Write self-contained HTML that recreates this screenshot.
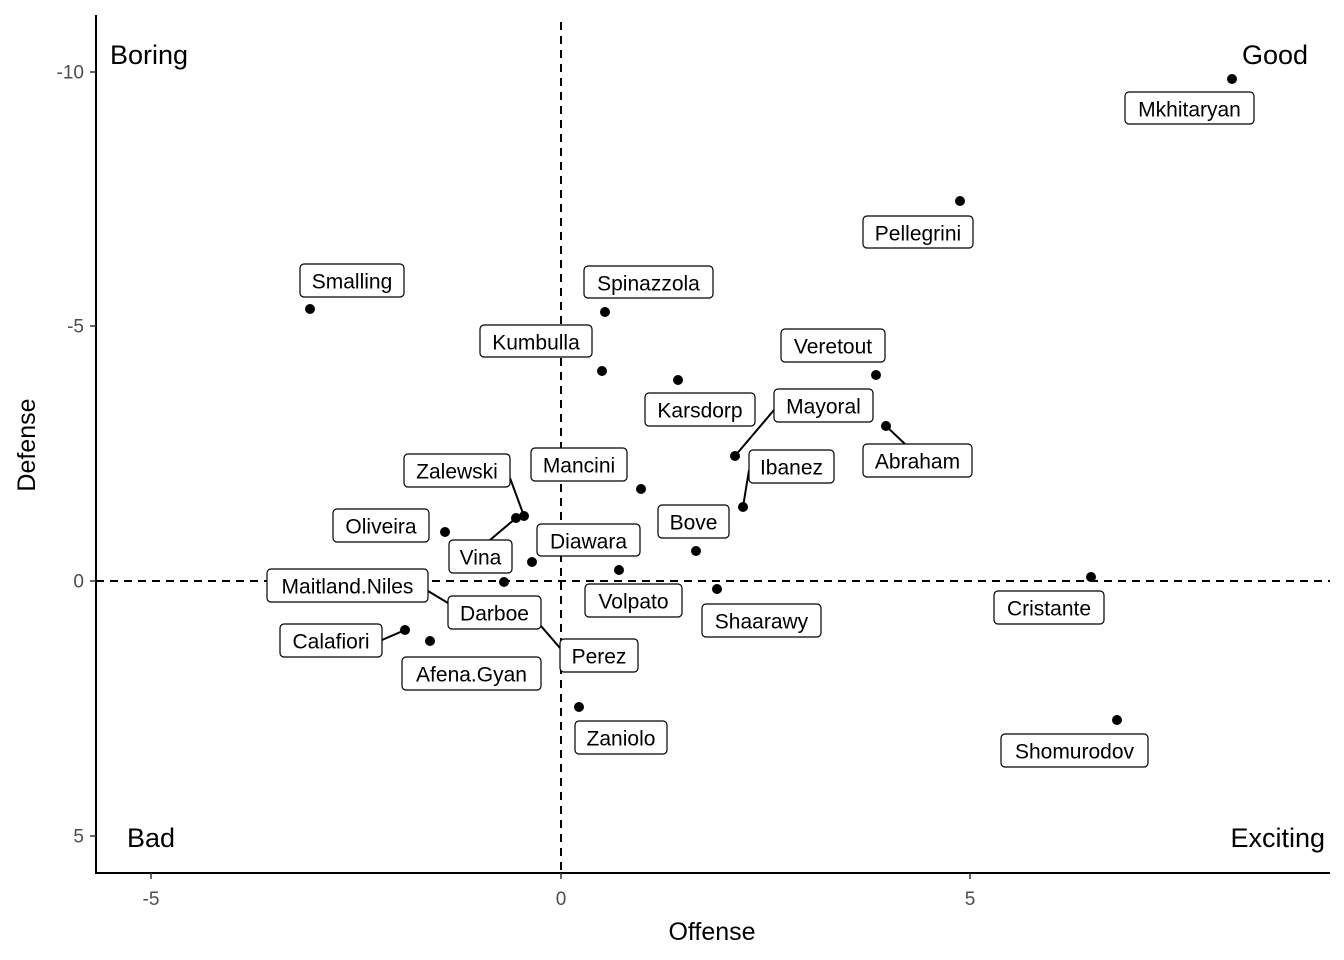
<!DOCTYPE html>
<html><head><meta charset="utf-8"><style>
html,body{margin:0;padding:0;background:#fff;}
svg{display:block;font-family:"Liberation Sans",Arial,sans-serif;}
.lb rect{fill:#fff;stroke:#000;stroke-width:1.2;}
.lb text{font-size:21px;text-anchor:middle;dominant-baseline:central;fill:#000;}
.tk{font-size:19px;fill:#4d4d4d;}
</style></head><body>
<svg width="1344" height="960" viewBox="0 0 1344 960">
<line x1="561" y1="22" x2="561" y2="873" stroke="#000" stroke-width="2" stroke-dasharray="8,6"/>
<line x1="96" y1="581" x2="1330" y2="581" stroke="#000" stroke-width="2" stroke-dasharray="8,6"/>
<line x1="96" y1="15" x2="96" y2="874" stroke="#000" stroke-width="2"/>
<line x1="95" y1="873" x2="1330" y2="873" stroke="#000" stroke-width="2"/>
<g stroke="#333" stroke-width="1.5">
<line x1="90" y1="72" x2="96" y2="72"/><line x1="90" y1="326" x2="96" y2="326"/>
<line x1="90" y1="581" x2="96" y2="581"/><line x1="90" y1="836" x2="96" y2="836"/>
<line x1="151" y1="873" x2="151" y2="879"/><line x1="561" y1="873" x2="561" y2="879"/><line x1="970" y1="873" x2="970" y2="879"/>
</g>
<g class="tk" text-anchor="end" dominant-baseline="central">
<text x="84" y="73">-10</text><text x="84" y="327">-5</text><text x="84" y="582">0</text><text x="84" y="837">5</text>
</g>
<g class="tk" text-anchor="middle">
<text x="151" y="905">-5</text><text x="561" y="905">0</text><text x="970" y="905">5</text>
</g>
<text x="712" y="940" font-size="25" text-anchor="middle">Offense</text>
<text transform="translate(35,445) rotate(-90)" font-size="25" text-anchor="middle">Defense</text>
<g font-size="27">
<text x="110" y="64">Boring</text>
<text x="1308" y="64" text-anchor="end">Good</text>
<text x="127" y="847">Bad</text>
<text x="1325" y="847" text-anchor="end">Exciting</text>
</g>
<g stroke="#000" stroke-width="2">
<line x1="735" y1="456" x2="774" y2="410"/>
<line x1="886" y1="426" x2="905" y2="444"/>
<line x1="743" y1="507" x2="749" y2="470"/>
<line x1="524" y1="516" x2="510" y2="478"/>
<line x1="516" y1="518" x2="490" y2="540"/>
<line x1="428" y1="591" x2="448" y2="603"/>
<line x1="541" y1="626" x2="560" y2="648"/>
<line x1="382" y1="640" x2="405" y2="630"/>
</g>
<g fill="#000">
<circle cx="1232" cy="79" r="5"/><circle cx="960" cy="201" r="5"/><circle cx="310" cy="309" r="5"/>
<circle cx="605" cy="312" r="5"/><circle cx="602" cy="371" r="5"/><circle cx="678" cy="380" r="5"/>
<circle cx="876" cy="375" r="5"/><circle cx="735" cy="456" r="5"/><circle cx="886" cy="426" r="5"/>
<circle cx="743" cy="507" r="5"/><circle cx="641" cy="489" r="5"/><circle cx="524" cy="516" r="5"/>
<circle cx="516" cy="518" r="5"/><circle cx="445" cy="532" r="5"/><circle cx="696" cy="551" r="5"/>
<circle cx="532" cy="562" r="5"/><circle cx="619" cy="570" r="5"/><circle cx="504" cy="582" r="5"/>
<circle cx="405" cy="630" r="5"/><circle cx="430" cy="641" r="5"/><circle cx="717" cy="589" r="5"/>
<circle cx="1091" cy="577" r="5"/><circle cx="579" cy="707" r="5"/><circle cx="1117" cy="720" r="5"/>
</g>
<g class="lb">
<rect x="1125" y="92" width="129" height="32" rx="4"/><text x="1189.5" y="110">Mkhitaryan</text>
<rect x="863" y="216" width="110" height="32" rx="4"/><text x="918" y="234">Pellegrini</text>
<rect x="300" y="264" width="104" height="33" rx="4"/><text x="352" y="282">Smalling</text>
<rect x="584" y="266" width="129" height="32" rx="4"/><text x="648.5" y="284">Spinazzola</text>
<rect x="480" y="325" width="112" height="32" rx="4"/><text x="536" y="343">Kumbulla</text>
<rect x="645" y="393" width="110" height="33" rx="4"/><text x="700" y="411">Karsdorp</text>
<rect x="781" y="329" width="104" height="33" rx="4"/><text x="833" y="347">Veretout</text>
<rect x="774" y="389" width="99" height="33" rx="4"/><text x="823.5" y="407">Mayoral</text>
<rect x="863" y="444" width="109" height="33" rx="4"/><text x="917.5" y="462">Abraham</text>
<rect x="749" y="450" width="85" height="33" rx="4"/><text x="791.5" y="468">Ibanez</text>
<rect x="531" y="448" width="96" height="33" rx="4"/><text x="579" y="466">Mancini</text>
<rect x="404" y="454" width="106" height="33" rx="4"/><text x="457" y="472">Zalewski</text>
<rect x="333" y="509" width="96" height="33" rx="4"/><text x="381" y="527">Oliveira</text>
<rect x="449" y="540" width="63" height="33" rx="4"/><text x="480.5" y="558">Vina</text>
<rect x="658" y="505" width="71" height="33" rx="4"/><text x="693.5" y="523">Bove</text>
<rect x="537" y="524" width="103" height="32" rx="4"/><text x="588.5" y="542">Diawara</text>
<rect x="585" y="584" width="97" height="33" rx="4"/><text x="633.5" y="602">Volpato</text>
<rect x="267" y="569" width="161" height="33" rx="4"/><text x="347.5" y="587">Maitland.Niles</text>
<rect x="448" y="596" width="93" height="33" rx="4"/><text x="494.5" y="614">Darboe</text>
<rect x="560" y="639" width="78" height="33" rx="4"/><text x="599" y="657">Perez</text>
<rect x="280" y="624" width="102" height="33" rx="4"/><text x="331" y="642">Calafiori</text>
<rect x="402" y="657" width="139" height="33" rx="4"/><text x="471.5" y="675">Afena.Gyan</text>
<rect x="702" y="604" width="119" height="33" rx="4"/><text x="761.5" y="622">Shaarawy</text>
<rect x="994" y="591" width="110" height="33" rx="4"/><text x="1049" y="609">Cristante</text>
<rect x="575" y="721" width="92" height="33" rx="4"/><text x="621" y="739">Zaniolo</text>
<rect x="1001" y="734" width="147" height="33" rx="4"/><text x="1074.5" y="752">Shomurodov</text>
</g>
</svg>
</body></html>
